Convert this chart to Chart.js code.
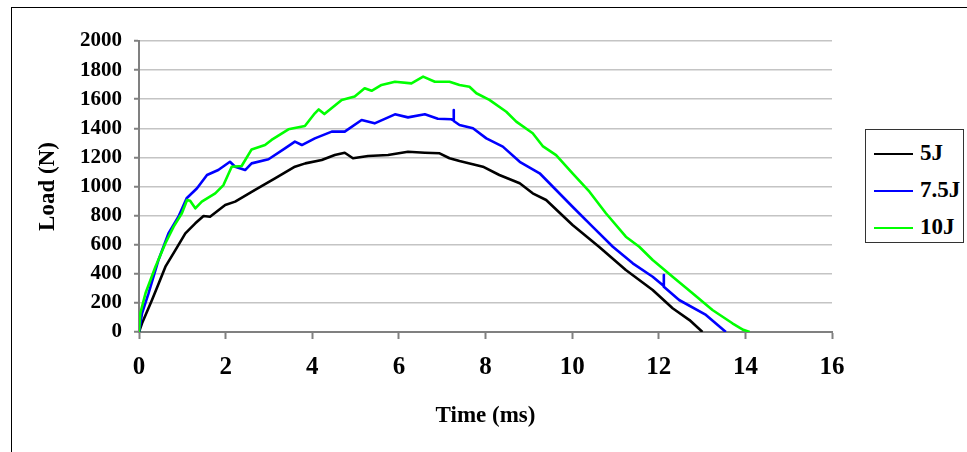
<!DOCTYPE html>
<html>
<head>
<meta charset="utf-8">
<script src="https://cdn.jsdelivr.net/npm/chart.js@4.4.1/dist/chart.umd.min.js"></script>
<style>
  html, body { margin: 0; padding: 0; background: #fff; }
  #wrap { position: relative; width: 967px; height: 452px; overflow: hidden; background: #fff; }
  #frame { position: absolute; left: 11px; top: 7px; width: 1000px; height: 500px; border: 1px solid #000; box-sizing: border-box; pointer-events: none; }
  canvas { position: absolute; left: 0; top: 0; }
  #legend { position: absolute; left: 865px; top: 129px; width: 99px; height: 114px; border: 1px solid #333; box-sizing: border-box; background: #fff;
            font-family: "Liberation Serif", "Times New Roman", serif; font-weight: bold; font-size: 23px; color: #000; }
  .row { position: absolute; left: 8px; height: 24px; line-height: 24px; white-space: nowrap; }
  .sw { position: absolute; left: 0; top: 12px; width: 39px; height: 2px; }
  .lab { position: absolute; left: 46px; top: 0; }
</style>
</head>
<body>
<div id="wrap">
  <canvas id="c" width="967" height="452"></canvas>
  <div id="frame"></div>
  <div id="legend"></div>
</div>
<script>
// ---- data ----
const seriesNames = ["5J", "7.5J", "10J"];
const seriesColors = ["#000000", "#0000ff", "#00ff00"];

const time5J = [0, 0.07, 0.3, 0.45, 0.61, 0.84, 1.07, 1.3, 1.49, 1.64, 1.99, 2.22, 2.68, 3.14, 3.6, 3.84, 4.22, 4.52, 4.75, 4.94, 5.29, 5.75, 6.21, 6.6, 6.94, 7.17, 7.4, 7.94, 8.32, 8.79, 9.09, 9.4, 10.01, 10.62, 11.24, 11.86, 12.32, 12.71, 13.01];
const load5J = [0, 60, 220, 330, 449, 563, 678, 747, 797, 792, 873, 896, 976, 1056, 1136, 1159, 1182, 1216, 1232, 1194, 1210, 1216, 1239, 1232, 1228, 1194, 1175, 1136, 1079, 1022, 953, 907, 735, 586, 426, 289, 163, 82, 0];

const time75J = [0, 0.07, 0.22, 0.45, 0.68, 0.91, 1.1, 1.34, 1.57, 1.83, 2.1, 2.22, 2.45, 2.6, 2.99, 3.37, 3.6, 3.76, 4.06, 4.45, 4.75, 5.14, 5.44, 5.91, 6.21, 6.6, 6.9, 7.21, 7.26, 7.265, 7.27, 7.4, 7.71, 8.02, 8.4, 8.79, 9.25, 9.63, 10.01, 10.47, 10.94, 11.4, 11.86, 12.11, 12.115, 12.12, 12.47, 13.09, 13.55];
const load75J = [0, 128, 266, 495, 678, 792, 919, 988, 1079, 1113, 1170, 1136, 1113, 1159, 1187, 1262, 1308, 1285, 1331, 1377, 1377, 1457, 1434, 1496, 1475, 1496, 1466, 1462, 1455, 1526, 1450, 1423, 1400, 1331, 1274, 1170, 1091, 976, 861, 724, 586, 472, 380, 318, 392, 311, 220, 117, 0];

const time10J = [0, 0.03, 0.15, 0.38, 0.61, 0.8, 0.99, 1.11, 1.18, 1.3, 1.45, 1.76, 1.95, 2.14, 2.37, 2.6, 2.91, 3.06, 3.45, 3.83, 4.06, 4.15, 4.28, 4.68, 4.98, 5.21, 5.37, 5.6, 5.91, 6.29, 6.56, 6.83, 7.17, 7.4, 7.63, 7.79, 8.09, 8.48, 8.71, 9.09, 9.32, 9.63, 10.01, 10.4, 10.78, 11.24, 11.55, 11.86, 12.32, 12.78, 13.24, 13.7, 13.95, 14.1];
const load10J = [0, 128, 266, 449, 610, 724, 816, 907, 902, 850, 896, 953, 1010, 1136, 1141, 1255, 1285, 1320, 1393, 1416, 1503, 1530, 1498, 1595, 1618, 1675, 1658, 1698, 1720, 1709, 1755, 1720, 1720, 1698, 1686, 1641, 1595, 1514, 1446, 1366, 1278, 1216, 1091, 964, 816, 655, 586, 495, 380, 266, 151, 60, 15, 0];

const xTicks = [0, 2, 4, 6, 8, 10, 12, 14, 16];
const yTicks = [0, 200, 400, 600, 800, 1000, 1200, 1400, 1600, 1800, 2000];
const xTitle = "Time (ms)";
const yTitle = "Load (N)";

// ---- build ----
const times = [time5J, time75J, time10J];
const loads = [load5J, load75J, load10J];
const toPts = (t, l) => t.map((v, i) => ({ x: v, y: l[i] }));

const datasets = seriesNames.map((name, i) => ({
  label: name,
  data: toPts(times[i], loads[i]),
  borderColor: seriesColors[i],
  backgroundColor: seriesColors[i],
  borderWidth: 2.6,
  borderJoinStyle: 'round',
  pointRadius: 0,
  tension: 0,
  fill: false,
  order: 3 - i
}));

const serif = '"Liberation Serif", "Times New Roman", serif';

new Chart(document.getElementById('c'), {
  type: 'line',
  data: { datasets },
  options: {
    responsive: false,
    animation: false,
    devicePixelRatio: 1,
    layout: { padding: { left: 0, top: 41, right: 135, bottom: 0 } },
    plugins: { legend: { display: false }, tooltip: { enabled: false } },
    scales: {
      x: {
        type: 'linear',
        min: xTicks[0], max: xTicks[xTicks.length - 1],
        afterBuildTicks: s => { s.ticks = xTicks.map(v => ({ value: v })); },
        afterFit: s => { s.height = 120; },
        ticks: { font: { family: serif, weight: 'bold', size: 25, lineHeight: 1 }, color: '#000', padding: 16, maxRotation: 0, autoSkip: false, callback: v => String(v) },
        grid: { drawOnChartArea: false, drawTicks: true, tickLength: 7, tickColor: '#808080', tickWidth: 2 },
        border: { display: true, color: '#808080', width: 2 },
        title: { display: true, text: xTitle, font: { family: serif, weight: 'bold', size: 23, lineHeight: 1.2 }, color: '#000', padding: { top: 0, bottom: 22 } }
      },
      y: {
        type: 'linear',
        min: yTicks[0], max: yTicks[yTicks.length - 1],
        afterBuildTicks: s => { s.ticks = yTicks.map(v => ({ value: v })); },
        afterFit: s => { s.width = 139; },
        ticks: { font: { family: serif, weight: 'bold', size: 21, lineHeight: 1 }, color: '#000', padding: 12, autoSkip: false, callback: v => String(v) },
        grid: { color: '#c4c4c4', lineWidth: 1.5, drawTicks: true, tickLength: 5, tickColor: '#808080', tickWidth: 2 },
        border: { display: true, color: '#808080', width: 2 },
        title: { display: true, text: yTitle, font: { family: serif, weight: 'bold', size: 23, lineHeight: 1.2 }, color: '#000', padding: { top: 34, bottom: 0 } }
      }
    }
  }
});

// ---- legend (real text) ----
const legend = document.getElementById('legend');
const rowTops = [11, 48, 85];
seriesNames.forEach((name, i) => {
  const r = document.createElement('div');
  r.className = 'row';
  r.style.top = rowTops[i] + 'px';
  const sw = document.createElement('div');
  sw.className = 'sw';
  sw.style.background = seriesColors[i];
  const lab = document.createElement('span');
  lab.className = 'lab';
  lab.textContent = name;
  r.appendChild(sw); r.appendChild(lab);
  legend.appendChild(r);
});
</script>
</body>
</html>
